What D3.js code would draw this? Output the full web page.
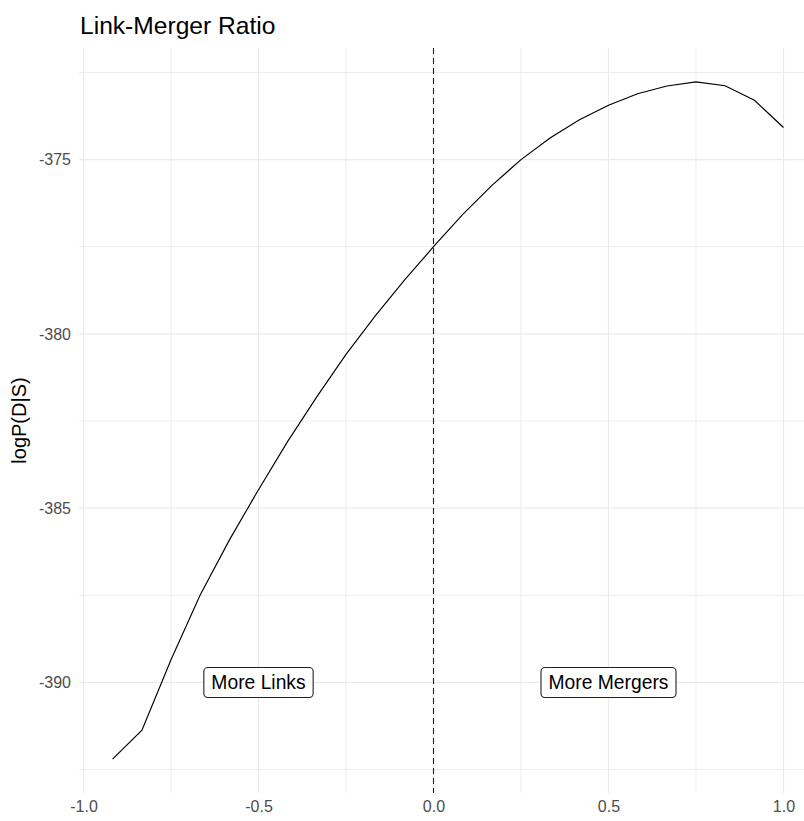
<!DOCTYPE html>
<html>
<head>
<meta charset="utf-8">
<script src="https://cdn.jsdelivr.net/npm/d3@7"></script>
<style>
  html, body { margin: 0; padding: 0; background: #fff; }
  svg { display: block; font-family: "Liberation Sans", Arial, sans-serif; }
</style>
</head>
<body>
<svg id="chart" width="804" height="821"></svg>
<script>
// Link-merger ratio (x) against the log-likelihood logP(D|S) (y)
const ratio = [-0.917, -0.833, -0.750, -0.667, -0.583, -0.500, -0.417, -0.333,
               -0.250, -0.167, -0.083, 0.000, 0.083, 0.167, 0.250, 0.333,
               0.417, 0.500, 0.583, 0.667, 0.750, 0.833, 0.917, 1.000];
const logLik = [-392.20, -391.37, -389.35, -387.50, -385.91, -384.47, -383.09, -381.80,
                -380.59, -379.49, -378.46, -377.50, -376.58, -375.74, -375.00, -374.38,
                -373.86, -373.44, -373.11, -372.89, -372.77, -372.88, -373.30, -374.08];

const xTicks = [-1, -0.5, 0, 0.5, 1];
const xTickLabels = ["-1.0", "-0.5", "0.0", "0.5", "1.0"];
const xMinor = [-0.75, -0.25, 0.25, 0.75];
const yTicks = [-390, -385, -380, -375];
const yTickLabels = ["-390", "-385", "-380", "-375"];
const yMinor = [-392.5, -387.5, -382.5, -377.5, -372.5];

const annotations = ["More Links", "More Mergers"];
const annotationX = [-0.5, 0.5];
const annotationY = [-390, -390];

const svg = d3.select("#chart");
const panel = { left: 79, top: 48, bottom: 793 };

// ggplot-style 5% expansion on each side of the data range
function expand(ext, f) { const s = ext[1] - ext[0]; return [ext[0] - s * f, ext[1] + s * f]; }
const xDom = expand(d3.extent(ratio), 0.05);
const yDom = expand(d3.extent(logLik), 0.05);
const pxPerX = 350;
const x = d3.scaleLinear().domain(xDom).range([panel.left, panel.left + (xDom[1] - xDom[0]) * pxPerX]);
const y = d3.scaleLinear().domain(yDom).range([panel.bottom, panel.top]);
const panelRight = x.range()[1];

// grid
const grid = svg.append("g").attr("stroke", "#ebebeb").attr("fill", "none");
grid.selectAll("line.ymin").data(yMinor).join("line")
  .attr("x1", panel.left).attr("x2", panelRight)
  .attr("y1", d => y(d)).attr("y2", d => y(d)).attr("stroke-width", 0.9);
grid.selectAll("line.xmin").data(xMinor).join("line")
  .attr("y1", panel.top).attr("y2", panel.bottom)
  .attr("x1", d => x(d)).attr("x2", d => x(d)).attr("stroke-width", 0.9);
grid.selectAll("line.ymaj").data(yTicks).join("line")
  .attr("x1", panel.left).attr("x2", panelRight)
  .attr("y1", d => y(d)).attr("y2", d => y(d)).attr("stroke-width", 1.2);
grid.selectAll("line.xmaj").data(xTicks).join("line")
  .attr("y1", panel.top).attr("y2", panel.bottom)
  .attr("x1", d => x(d)).attr("x2", d => x(d)).attr("stroke-width", 1.2);

// axes (text only, theme_minimal)
const xAxis = d3.axisBottom(x).tickValues(xTicks)
  .tickFormat((d, i) => xTickLabels[i]).tickSize(0).tickPadding(8);
svg.append("g").attr("transform", `translate(0,${panel.bottom})`).call(xAxis)
  .call(g => g.select(".domain").remove())
  .call(g => g.selectAll("text").attr("fill", "#4d4d4d")
    .style("font-size", "16px").style("font-family", "'Liberation Sans', Arial, sans-serif"));

const yAxis = d3.axisLeft(y).tickValues(yTicks)
  .tickFormat((d, i) => yTickLabels[i]).tickSize(0).tickPadding(8);
svg.append("g").attr("transform", `translate(${panel.left},0)`).call(yAxis)
  .call(g => g.select(".domain").remove())
  .call(g => g.selectAll("text").attr("fill", "#4d4d4d")
    .style("font-size", "16px").style("font-family", "'Liberation Sans', Arial, sans-serif"));

// vertical reference line at zero
svg.append("line")
  .attr("x1", x(0)).attr("x2", x(0)).attr("y1", panel.top).attr("y2", panel.bottom)
  .attr("stroke", "#222").attr("stroke-width", 1.1).attr("stroke-dasharray", "6,4");

// likelihood curve
const line = d3.line().x((d, i) => x(ratio[i])).y(d => y(d));
svg.append("path").datum(logLik)
  .attr("d", line).attr("fill", "none").attr("stroke", "#000").attr("stroke-width", 1.15);

// labels with rounded boxes
annotations.forEach((txt, i) => {
  const g = svg.append("g").attr("transform", `translate(${x(annotationX[i])},${y(annotationY[i])})`);
  const rect = g.append("rect");
  const t = g.append("text").text(txt)
    .attr("text-anchor", "middle").attr("dy", "0.36em")
    .attr("fill", "#000").style("font-size", "19.3px");
  const w = t.node().getComputedTextLength();
  const h = 30;
  rect.attr("x", -w / 2 - 7.5).attr("y", -h / 2).attr("width", w + 15).attr("height", h)
    .attr("rx", 4).attr("ry", 4).attr("fill", "#fff").attr("stroke", "#222").attr("stroke-width", 1.1);
});

// titles
svg.append("text").text("Link-Merger Ratio")
  .attr("x", 80).attr("y", 34).attr("fill", "#000").style("font-size", "24.6px");

svg.append("text").text("logP(D|S)")
  .attr("transform", `translate(26,${(panel.top + panel.bottom) / 2}) rotate(-90)`)
  .attr("text-anchor", "middle").attr("fill", "#000").style("font-size", "20px");
</script>
</body>
</html>
